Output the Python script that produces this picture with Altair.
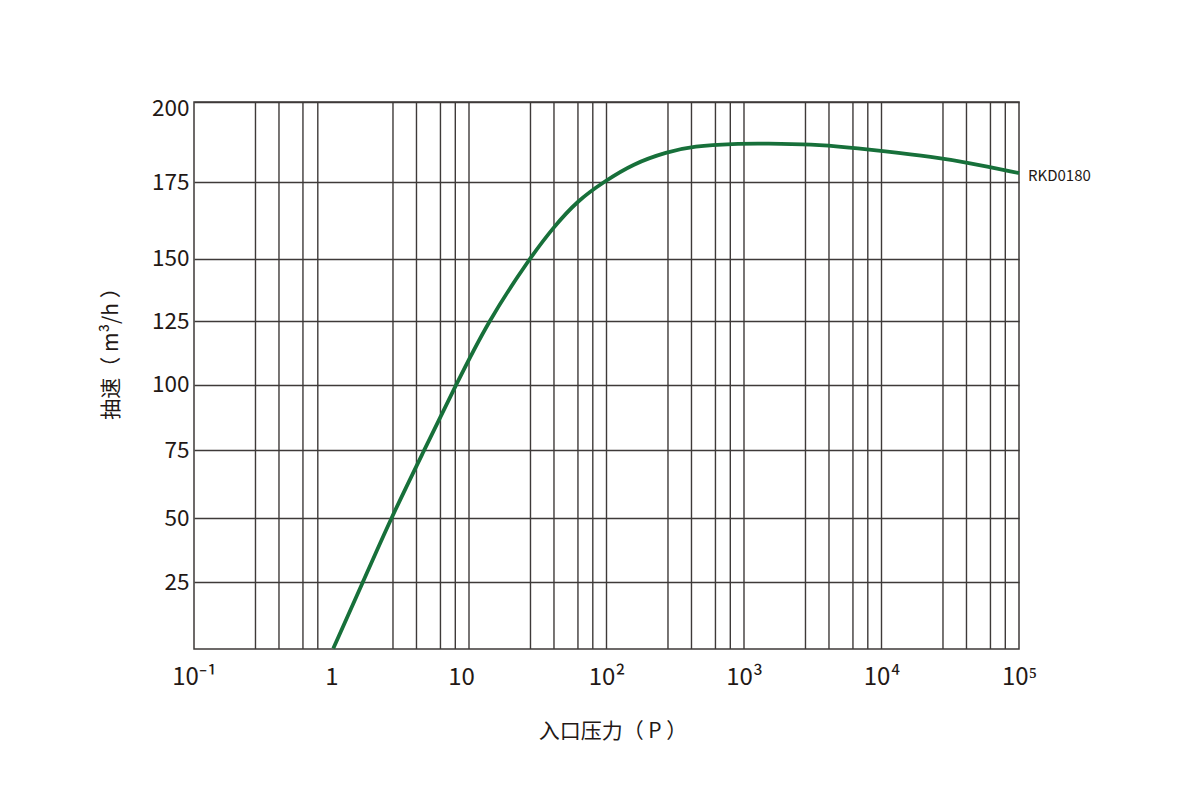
import json
import altair as alt
import pandas as pd

# ---- data ----
pressure = [1.03, 1.69, 2.71, 4.72, 8.06, 13.8, 27.5, 41.2, 61.9, 95.1,
            157, 275, 430, 839, 1469, 3120, 5930, 10090, 23900, 41900, 100000]
speed = [0, 25, 50, 75, 100, 125, 150, 160.3, 169, 175,
         180.75, 184.4, 186.2, 187, 187, 186.8, 185.75, 184.7, 182.8, 181.1, 177.8]
series_name = ["RKD0180"]

x_tick_values = [0.1, 1, 10, 100, 1000, 10000, 100000]
x_tick_labels = ["10⁻¹", "1", "10", "10²", "10³", "10⁴", "10⁵"]
y_tick_values = [25, 50, 75, 100, 125, 150, 175, 200]
y_scale_domain = [0, 25, 50, 75, 100, 125, 150, 175, 200]

grid_multipliers = [2.8, 4.15, 6.2, 7.95]
grid_decades = [0.1, 1, 10, 100, 1000, 10000]
grid_majors = [10, 100, 1000, 10000]

# ---- layout / style ----
W, H = 825, 547
y_scale_range = [546.6, 480.3, 416, 348.3, 282.6, 219, 156.6, 80, 0]
FONT = "Noto Sans CJK SC"
TXT = "#231815"
GRID = "#3e3a39"
GREEN = "#17703a"

curve = pd.DataFrame({"p": pressure, "s": speed})
grid_x = [m * d for d in grid_decades for m in grid_multipliers] + grid_majors
grid_df = pd.DataFrame({"p": grid_x})
label_df = pd.DataFrame({"p": [pressure[-1]], "s": [speed[-1]], "name": series_name})

xscale = alt.Scale(type="log", domain=[x_tick_values[0], x_tick_values[-1]], nice=False)
yscale = alt.Scale(domain=y_scale_domain, range=y_scale_range, nice=False, zero=False)

label_expr = json.dumps(x_tick_labels, ensure_ascii=False) + "[round(log(datum.value)/LN10)+1]"

xaxis = alt.Axis(
    values=x_tick_values, labelExpr=label_expr, grid=False, ticks=False, domain=False,
    labelFontSize=24, labelPadding=16, labelFlush=False, labelOverlap=False,
    labelOffset={"condition": {"test": "datum.value == 10", "value": -8}, "value": 0},
    labelFont=FONT, labelColor=TXT,
    titleFont=FONT, titleColor=TXT, titleFontSize=21, titleFontWeight="normal",
    titleX=418.5, titleY=82, titleBaseline="middle", titleAlign="center",
)
yaxis = alt.Axis(
    values=y_tick_values, grid=True, gridColor=GRID, gridWidth=1.4, gridOpacity=1,
    ticks=False, domain=False, labelFontSize=22.5, labelPadding=5,
    labelFont=FONT, labelColor=TXT,
    labelOffset={"condition": {"test": "datum.value == 200", "value": 6}, "value": 0},
    titleFont=FONT, titleColor=TXT, titleFontSize=21, titleFontWeight="normal",
    titleX=-83, titleY=246, titleBaseline="middle", titleAlign="center", titleAngle=270,
)

X_TITLE = "入口压力（ P ）"
Y_TITLE = "抽速（ m³/h ）"

vlines = alt.Chart(grid_df).mark_rule(color=GRID, strokeWidth=1.4).encode(
    x=alt.X("p:Q", scale=xscale, axis=xaxis, title=X_TITLE)
)

line = alt.Chart(curve).mark_line(color=GREEN, strokeWidth=3.8, interpolate="basis").encode(
    x=alt.X("p:Q", scale=xscale, axis=xaxis, title=X_TITLE),
    y=alt.Y("s:Q", scale=yscale, axis=yaxis, title=Y_TITLE),
)

label = alt.Chart(label_df).mark_text(
    align="left", baseline="middle", dx=9, dy=3, font=FONT, fontSize=15, color=TXT
).encode(
    x=alt.X("p:Q", scale=xscale, axis=xaxis, title=X_TITLE),
    y=alt.Y("s:Q", scale=yscale, axis=yaxis, title=Y_TITLE),
    text="name:N",
)

chart = (
    alt.layer(vlines, line, label)
    .properties(
        width=W, height=H,
        autosize=alt.AutoSizeParams(type="none"),
        padding={"left": 186, "top": 94, "right": 150, "bottom": 130},
        background="white",
    )
    .configure_view(stroke=GRID, strokeWidth=1.5)
)

chart.save("out.html", embed_options={"renderer": "svg", "actions": False})
